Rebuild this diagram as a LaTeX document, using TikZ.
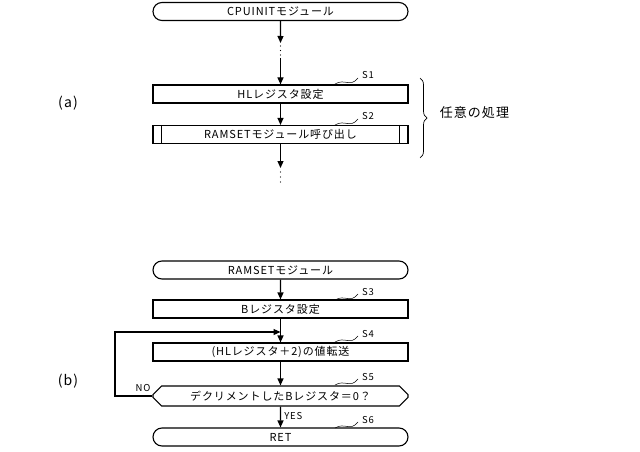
\documentclass[tikz,border=0pt]{standalone}
\usepackage{fontspec}
\setmainfont{Noto Sans CJK JP}[LetterSpace=8]
\usetikzlibrary{arrows.meta,decorations.pathreplacing,shapes.misc}
\begin{document}
\begin{tikzpicture}[x=1pt,y=-1pt,line width=1.1pt,
  proc/.style={draw,minimum width=255pt,minimum height=18pt,inner sep=0pt,font=\fontsize{11}{12}\selectfont},
  term/.style={proc,rounded rectangle},
  arr/.style={-{Triangle[length=7pt,width=6pt]}},
  lbl/.style={font=\fontsize{9.5}{10}\selectfont},
  sq/.style={line width=0.5pt}]
\useasboundingbox (0,0) rectangle (640,452);
\node[term] (cpu) at (280.5,11.5) {CPUINITモジュール};
\coordinate (d1t) at (280.5,43);
\coordinate (d1b) at (280.5,58);
\foreach \y in {46,50.5,55} \fill (280.5,\y) circle (0.7pt);
\node[proc] (s1) at (280.5,94) {HLレジスタ設定};
\node[proc] (s2) at (280.5,134.5) {RAMSETモジュール呼び出し};
\draw ([xshift=9pt]s2.north west) -- ([xshift=9pt]s2.south west);
\draw ([xshift=-9pt]s2.north east) -- ([xshift=-9pt]s2.south east);
\coordinate (d2t) at (280.5,168);
\foreach \y in {172,177,182} \fill (280.5,\y) circle (0.7pt);
\draw[arr] (cpu) -- (d1t);
\draw[arr] (d1b) -- (s1);
\draw[arr] (s1) -- (s2);
\draw[arr] (s2) -- (d2t);
\node[lbl] (s1l) at (368,75) {S1};
\draw[sq] (335,84) .. controls (345,78) and (350,88) .. (358,78);
\node[lbl] (s2l) at (368,116) {S2};
\draw[sq] (335,125) .. controls (345,119) and (350,129) .. (358,119);
\draw[line width=0.7pt,decorate,decoration={brace,amplitude=7pt}] (420,78) -- (420,158);
\node[font=\fontsize{13}{14}\selectfont,anchor=west] (any) at (436,113) {任意の処理};
\node[font=\fontsize{14}{15}\selectfont] (a) at (68,103) {(a)};

\node[term] (ram) at (280.5,270) {RAMSETモジュール};
\node[proc] (s3) at (280.5,309) {Bレジスタ設定};
\node[proc] (s4) at (280.5,352) {(HLレジスタ＋2)の値転送};
\node[draw,chamfered rectangle,chamfered rectangle xsep=10pt,minimum width=255pt,minimum height=20pt,inner sep=0pt,inner xsep=0pt,font=\fontsize{11}{12}\selectfont] (s5) at (280.5,396) {デクリメントしたBレジスタ＝0？};
\node[term] (ret) at (280.5,437) {RET};
\draw[arr] (ram) -- (s3);
\draw[arr] (s3) -- (s4);
\draw[arr] (s4) -- (s5);
\draw[arr] (s5) -- node[lbl,right,pos=0.45]{YES} (ret);
\coordinate (lp) at (115,332);
\draw[arr] (s5.west) -- (115,396) -- (lp) -- (280.5,332);
\node[lbl] (no) at (143,388) {NO};
\node[lbl] (s3l) at (368,292) {S3};
\draw[sq] (335,300) .. controls (345,294) and (350,304) .. (358,294);
\node[lbl] (s4l) at (368,334) {S4};
\draw[sq] (335,342) .. controls (345,336) and (350,346) .. (358,336);
\node[lbl] (s5l) at (368,377) {S5};
\draw[sq] (335,385) .. controls (345,379) and (350,389) .. (358,379);
\node[lbl] (s6l) at (368,420) {S6};
\draw[sq] (335,428) .. controls (345,422) and (350,432) .. (358,422);
\node[font=\fontsize{14}{15}\selectfont] (b) at (68,381) {(b)};
\end{tikzpicture}
\end{document}
